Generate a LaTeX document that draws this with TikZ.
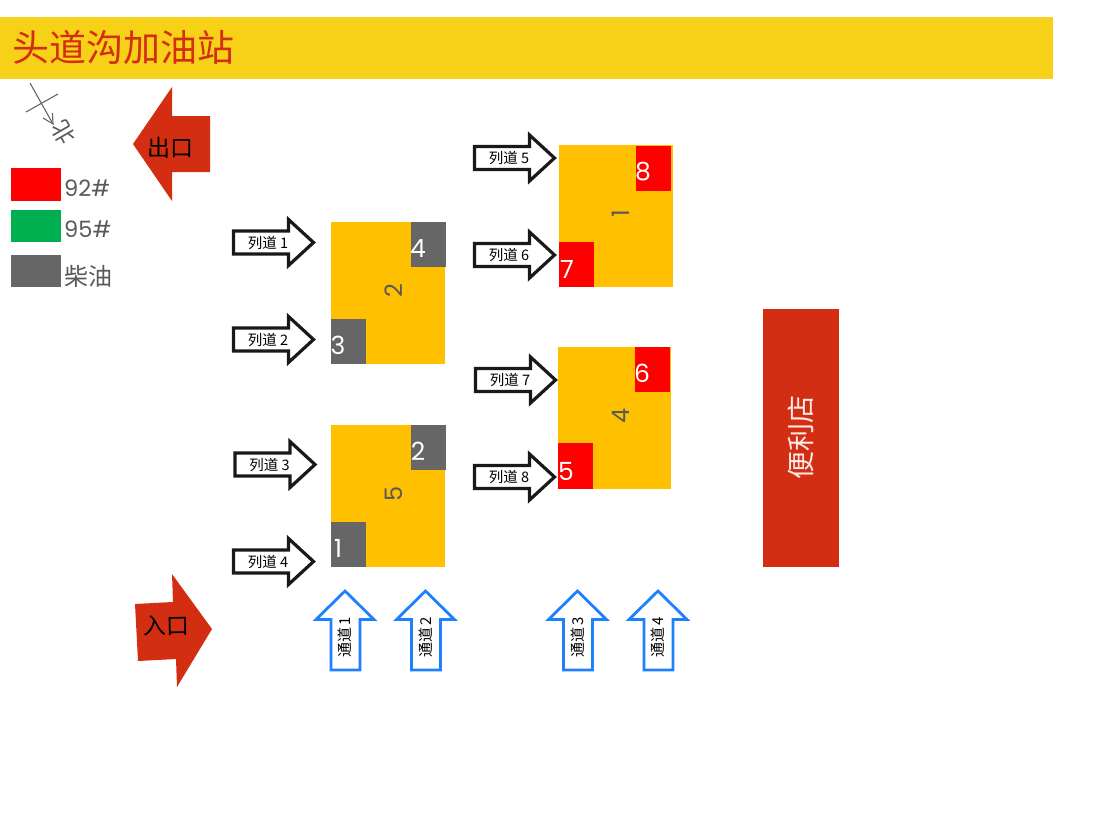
\documentclass[tikz,border=0pt]{standalone}
\usepackage{fontspec}
\setmainfont{Poppins}
\newfontfamily\cjk{Noto Sans CJK SC}
\definecolor{banner}{HTML}{F7D117}
\definecolor{rust}{HTML}{D42E12}
\definecolor{amber}{HTML}{FFC000}
\definecolor{slate}{HTML}{666666}
\definecolor{ink}{HTML}{595959}
\definecolor{leaf}{HTML}{00B050}
\definecolor{sky}{HTML}{1E7FFF}
\tikzset{
  px/.style={x=1pt,y=-1pt},
  lane/.style={draw=black!90,line width=3.2pt,fill=white,line join=miter},
  aisle/.style={draw=sky,line width=2.8pt,fill=white,line join=miter},
  lanetext/.style={inner sep=0pt,font=\cjk\fontsize{14.5}{14.5}\selectfont,text=black},
  aisletext/.style={inner sep=0pt,rotate=90,font=\cjk\fontsize{15}{15}\selectfont,text=black},
  islandno/.style={inner sep=0pt,rotate=90,text=ink,font=\fontsize{24}{24}\selectfont},
  pumpno/.style={inner sep=0pt,text=white,font=\fontsize{25}{25}\selectfont},
  legendtext/.style={inner sep=0pt,anchor=west,text=ink,font=\fontsize{22.5}{22.5}\selectfont},
  signtext/.style={inner sep=0pt,text=black,font=\cjk\fontsize{23}{23}\selectfont},
}
\newcommand{\lanearrow}[3]{% left, centre y, label
  \draw[lane] (#1,#2-11.5) -- (#1+55,#2-11.5) -- (#1+55,#2-23) -- (#1+80,#2) -- (#1+55,#2+23) -- (#1+55,#2+11.5) -- (#1,#2+11.5) -- cycle;
  \node[lanetext] at (#1+34.5,#2) {#3};
}
\newcommand{\aislearrow}[2]{% centre x, label
  \draw[aisle] (#1,591) -- (#1+29,619.5) -- (#1+15,619.5) -- (#1+15,670) -- (#1-14,670) -- (#1-14,619.5) -- (#1-29,619.5) -- cycle;
  \node[aisletext] at (#1,637.5) {#2};
}
\begin{document}
\begin{tikzpicture}[px]
\useasboundingbox (0,0) rectangle (1106,820);
\fill[white] (0,0) rectangle (1106,820);
% banner
\fill[banner] (0,17) rectangle (1053,79);
\node[anchor=west,inner sep=0pt,text=rust,font=\cjk\fontsize{37}{37}\selectfont] (title) at (12,47.5) {头道沟加油站};
% compass
\coordinate (na) at (30,83);
\coordinate (nb) at (53,124);
\coordinate (ca) at (26,112);
\coordinate (cb) at (58,94);
\draw[slate,line width=1.1pt] (ca) -- (cb);
\draw[slate,line width=1.1pt] (na) -- (nb);
\draw[slate,line width=1.1pt] (43,118) -- (53,124) -- (52.5,113);
\node[inner sep=0pt,rotate=120,text=ink,font=\cjk\fontsize{23}{23}\selectfont] (north) at (63,133) {北};
% legend
\fill[red] (11,168) rectangle (61,201);
\fill[leaf] (11,210) rectangle (61,242);
\fill[slate] (11,255) rectangle (61,287);
\node[legendtext] (l92) at (64,188) {92\#};
\node[legendtext] (l95) at (64,229) {95\#};
\node[legendtext,font=\cjk\fontsize{24}{24}\selectfont] (ldiesel) at (64,276) {柴油};
% exit
\fill[rust] (133,144) -- (172,87) -- (172,116) -- (210,116) -- (210,172) -- (172,172) -- (172,201) -- cycle;
\node[signtext] (exit) at (170,148) {出口};
% entry
\fill[rust] (135,604) -- (173,602) -- (172,574) -- (212,629) -- (177,687) -- (176,659) -- (138,661) -- cycle;
\node[signtext,rotate=1] (entry) at (166,626) {入口};
% lane arrows
\lanearrow{233.5}{242.5}{列道 1}
\lanearrow{233.5}{339.5}{列道 2}
\lanearrow{235}{464.5}{列道 3}
\lanearrow{233.5}{561.5}{列道 4}
\lanearrow{474.5}{158}{列道 5}
\lanearrow{474.5}{255}{列道 6}
\lanearrow{475.5}{380}{列道 7}
\lanearrow{474.5}{477}{列道 8}
% aisle arrows
\aislearrow{345}{通道\,1}
\aislearrow{425.5}{通道\,2}
\aislearrow{577.5}{通道\,3}
\aislearrow{658}{通道\,4}
% island 2
\fill[amber] (331,222) rectangle (445,364);
\fill[slate] (411,222) rectangle (446,267);
\fill[slate] (331,319) rectangle (366,364);
\node[islandno] (i2) at (394,291) {2};
\node[pumpno] (p4) at (418,249) {4};
\node[pumpno] (p3) at (338,345) {3};
% island 5
\fill[amber] (331,425) rectangle (445,567);
\fill[slate] (411,425) rectangle (446,470);
\fill[slate] (331,522) rectangle (366,567);
\node[islandno] (i5) at (394,494) {5};
\node[pumpno] (p2) at (418,451) {2};
\node[pumpno] (p1) at (338,548) {1};
% island 1
\fill[amber] (559,145) rectangle (673,287);
\fill[red] (636,146) rectangle (671,191);
\fill[red] (559,242) rectangle (594,287);
\node[islandno] (i1) at (621,214) {1};
\node[pumpno] (p8) at (643,172) {8};
\node[pumpno] (p7) at (567,269) {7};
% island 4
\fill[amber] (558,347) rectangle (671,489);
\fill[red] (635,347) rectangle (670,392);
\fill[red] (558,443) rectangle (593,489);
\node[islandno] (i4) at (621,416) {4};
\node[pumpno] (p6) at (642,373) {6};
\node[pumpno] (p5) at (566,471) {5};
% shop
\fill[rust] (763,309) rectangle (839,567);
\node[inner sep=0pt,rotate=90,text=white!90!rust,font=\cjk\fontsize{28}{28}\selectfont] (shop) at (801,437.5) {便利店};
\end{tikzpicture}
\end{document}
